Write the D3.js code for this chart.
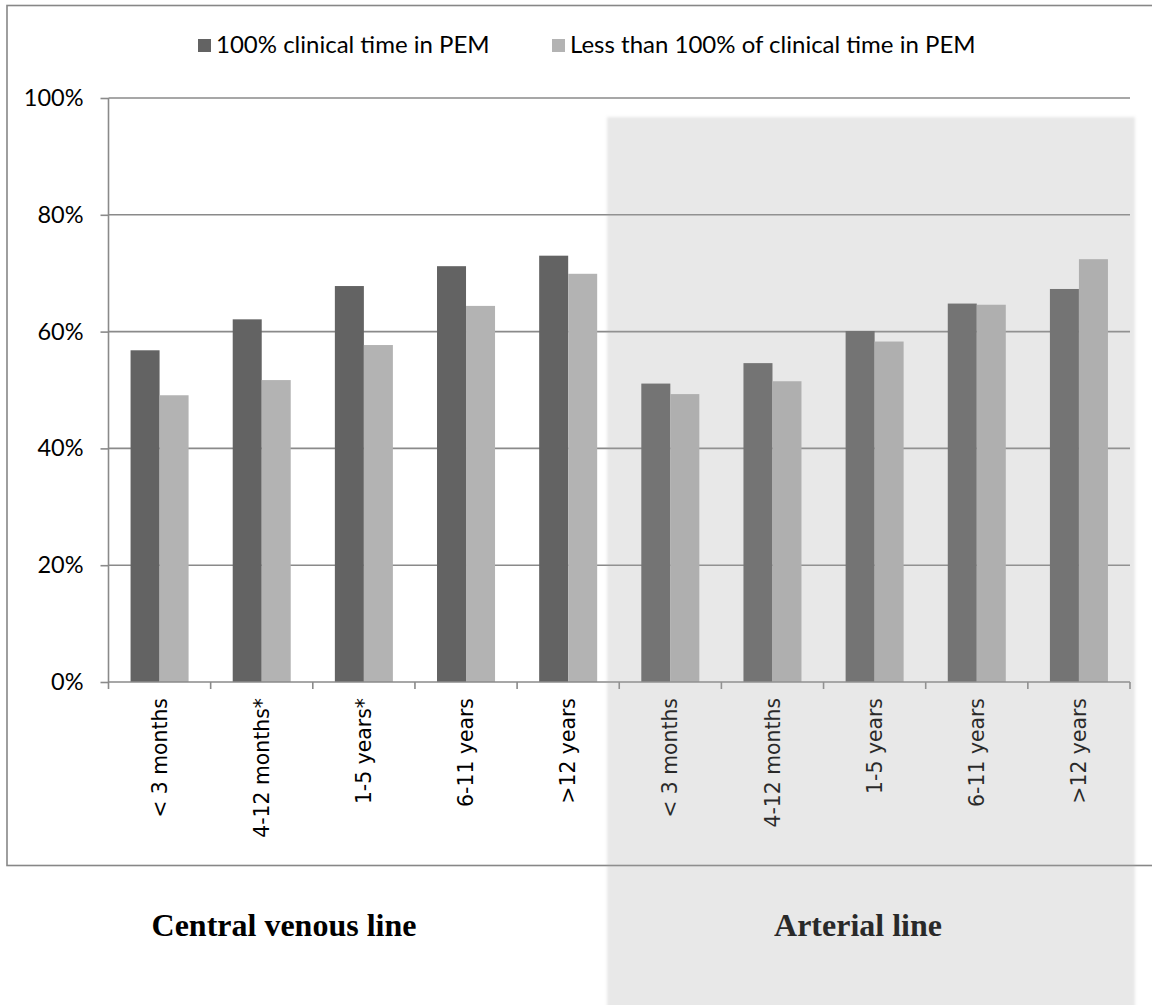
<!DOCTYPE html>
<html><head><meta charset="utf-8">
<script src="https://cdn.jsdelivr.net/npm/d3@7"></script>
<style>body{margin:0;background:#fff}</style>
</head><body>
<svg id="chart" width="1152" height="1005"></svg>
<script>
const categories = ["< 3 months","4-12 months*","1-5 years*","6-11 years",">12 years","< 3 months","4-12 months","1-5 years","6-11 years",">12 years"];
const seriesNames = ["100% clinical time in PEM","Less than 100% of clinical time in PEM"];
const fullTime = [0.568,0.621,0.678,0.712,0.730,0.511,0.546,0.601,0.648,0.673];
const partTime = [0.491,0.517,0.577,0.644,0.699,0.493,0.515,0.583,0.646,0.724];
const yTicks = [0,0.2,0.4,0.6,0.8,1.0];
const groupTitles = ["Central venous line","Arterial line"];
const seriesColors = ["#636363","#b3b3b3"];

const svg = d3.select("#chart");
const plotL = 108.5, plotR = 1130, plotT = 98, plotB = 682;

const x0 = d3.scaleBand().domain(d3.range(categories.length)).range([plotL, plotR]).paddingInner(0.432).paddingOuter(0.216);
const x1 = d3.scaleBand().domain([0,1]).range([0, x0.bandwidth()]);
const y = d3.scaleLinear().domain([0,1]).range([plotB, plotT]);

// outer border
svg.append("rect").attr("x",7).attr("y",5.5).attr("width",1300).attr("height",860)
  .attr("fill","none").attr("stroke","#878787").attr("stroke-width",1.6);

// gridlines
svg.append("g").selectAll("line").data(yTicks.filter(d=>d>0)).join("line")
  .attr("x1",plotL).attr("x2",plotR).attr("y1",d=>y(d)).attr("y2",d=>y(d))
  .attr("stroke","#8a8a8a").attr("stroke-width",1.6);

// bars
const rows = categories.map((c,i)=>({i, vals:[fullTime[i], partTime[i]]}));
const g = svg.append("g").selectAll("g").data(rows).join("g")
  .attr("transform", d=>`translate(${x0(d.i)},0)`);
g.selectAll("rect").data(d=>d.vals.map((v,k)=>({v,k}))).join("rect")
  .attr("x", d=>x1(d.k)).attr("width", x1.bandwidth())
  .attr("y", d=>y(d.v)).attr("height", d=>y(0)-y(d.v))
  .attr("fill", d=>seriesColors[d.k]);

// y axis
const yAxis = svg.append("g").attr("transform",`translate(${plotL},0)`)
  .call(d3.axisLeft(y).tickValues(yTicks).tickFormat(d3.format(".0%")).tickSize(8).tickPadding(17));
yAxis.select(".domain").attr("stroke","#8a8a8a").attr("stroke-width",1.6).attr("d",`M0,${plotT}V${plotB}`);
yAxis.selectAll(".tick line").attr("stroke","#8a8a8a").attr("stroke-width",1.6);
yAxis.selectAll("text").attr("font-family","Lato, sans-serif").attr("font-size","23.5px").attr("fill","#000");

// x axis
const xAxis = svg.append("g").attr("transform",`translate(0,${plotB})`)
  .call(d3.axisBottom(x0).tickFormat(i=>categories[i]).tickSize(0));
xAxis.select(".domain").attr("stroke","#8a8a8a").attr("stroke-width",1.6).attr("d",`M${plotL},0H${plotR}`);
xAxis.selectAll("text").attr("font-family","'DejaVu Sans', sans-serif").attr("font-size","20.4px").attr("fill","#000")
  .attr("transform","rotate(-90)").attr("x",-16).attr("y",0).attr("dy","0.35em").style("text-anchor","end");
const bounds = d3.range(categories.length+1).map(i=> i<categories.length ? x0(i) - x0.step()*x0.paddingInner()/2 : plotR);
xAxis.append("g").selectAll("line").data(bounds).join("line")
  .attr("x1",d=>d).attr("x2",d=>d).attr("y1",0).attr("y2",7)
  .attr("stroke","#8a8a8a").attr("stroke-width",1.6);

// legend
const legend = svg.append("g");
const legX = [198, 552];
seriesNames.forEach((name,k)=>{
  legend.append("rect").attr("x",legX[k]).attr("y",39).attr("width",13).attr("height",13).attr("fill",seriesColors[k]);
  legend.append("text").attr("x",legX[k]+18).attr("y",52.5).attr("font-family","Lato, sans-serif")
    .attr("font-size","24px").attr("fill","#000").text(name);
});

// group titles
const titleX = [284, 858];
svg.append("g").selectAll("text").data(groupTitles).join("text")
  .attr("x",(d,i)=>titleX[i]).attr("y",936).attr("text-anchor","middle")
  .attr("font-family","'Liberation Serif', 'Times New Roman', serif").attr("font-weight","bold")
  .attr("font-size","32px").attr("fill","#000").text(d=>d);

// shaded overlay for arterial line section
const defs = svg.append("defs");
defs.append("filter").attr("id","soft").attr("x","-5%").attr("y","-5%").attr("width","110%").attr("height","110%")
  .append("feGaussianBlur").attr("stdDeviation",1.5);
svg.append("rect").attr("x",607).attr("y",117).attr("width",528).attr("height",920)
  .attr("fill","rgb(163,163,163)").attr("fill-opacity",0.25).attr("filter","url(#soft)");
</script>
</body></html>
